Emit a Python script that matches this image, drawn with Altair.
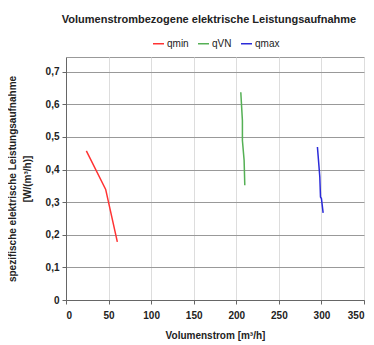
import altair as alt
import pandas as pd

series_names = ["qmin", "qVN", "qmax"]
qmin_x = [23.9, 46.6, 60.3]
qmin_y = [0.457, 0.339, 0.178]
qvn_x = [205.3, 207.2, 207.2, 209.2, 210.0]
qvn_y = [0.637, 0.550, 0.489, 0.428, 0.352]
qmax_x = [295.3, 296.1, 298.1, 298.9, 300.0, 302.0]
qmax_y = [0.469, 0.443, 0.377, 0.316, 0.311, 0.267]
colors = ["#ff3333", "#55b055", "#2b2bd9"]

rows = []
for name, xs, ys in [("qmin", qmin_x, qmin_y), ("qVN", qvn_x, qvn_y), ("qmax", qmax_x, qmax_y)]:
    for i, (x, y) in enumerate(zip(xs, ys)):
        rows.append({"series": name, "x": x, "y": y, "idx": i})
df = pd.DataFrame(rows)

FONT = "Liberation Sans, Arial, sans-serif"

chart = alt.Chart(df).mark_line(strokeWidth=1.5).encode(
    x=alt.X("x:Q", scale=alt.Scale(domain=[0, 350], nice=False),
            axis=alt.Axis(title="Volumenstrom [m³/h]", values=[0, 50, 100, 150, 200, 250, 300, 350],
                          gridColor="#dddddd", labelFontWeight="bold", labelFontSize=10,
                          titleFontWeight="bold", titleFontSize=10, titlePadding=10,
                          labelPadding=6, tickSize=4, domainColor="#666666", tickColor="#666666",
                          labelColor="#222222", titleColor="#222222", labelFont=FONT, titleFont=FONT)),
    y=alt.Y("y:Q", scale=alt.Scale(domain=[0, 0.745], nice=False),
            axis=alt.Axis(title=["spezifische elektrische Leistungsaufnahme", "[W/(m³/h)]"],
                          values=[0, 0.1, 0.2, 0.3, 0.4, 0.5, 0.6, 0.7],
                          labelExpr="datum.value == 0 ? '0' : replace(format(datum.value, '.1f'), '.', ',')",
                          gridColor="#999999", labelFontWeight="bold", labelFontSize=10,
                          titleFontWeight="bold", titleFontSize=10, titlePadding=13,
                          labelPadding=3, tickSize=4, domainColor="#666666", tickColor="#666666",
                          labelColor="#222222", titleColor="#222222", labelFont=FONT, titleFont=FONT,
                          titleLineHeight=15)),
    color=alt.Color("series:N", scale=alt.Scale(domain=series_names, range=colors),
                    legend=alt.Legend(title=None, orient="none", direction="horizontal",
                                      legendX=86, legendY=-20, symbolType="stroke",
                                      symbolStrokeWidth=1.5, symbolSize=121, labelFontSize=10,
                                      labelFont=FONT, labelColor="#222222", columnPadding=6,
                                      labelOffset=2)),
    order="idx:Q",
).properties(
    width=298, height=243,
    title=alt.TitleParams("Volumenstrombezogene elektrische Leistungsaufnahme", fontSize=11,
                          fontWeight="bold", font=FONT, color="#222222", offset=12, dx=-6),
    autosize=alt.AutoSizeParams(type="none"),
    padding={"left": 58, "top": 49, "right": 2, "bottom": 45},
).configure_view(stroke="#999999")

chart.save("out.html", embed_options={"renderer": "svg", "actions": False})
